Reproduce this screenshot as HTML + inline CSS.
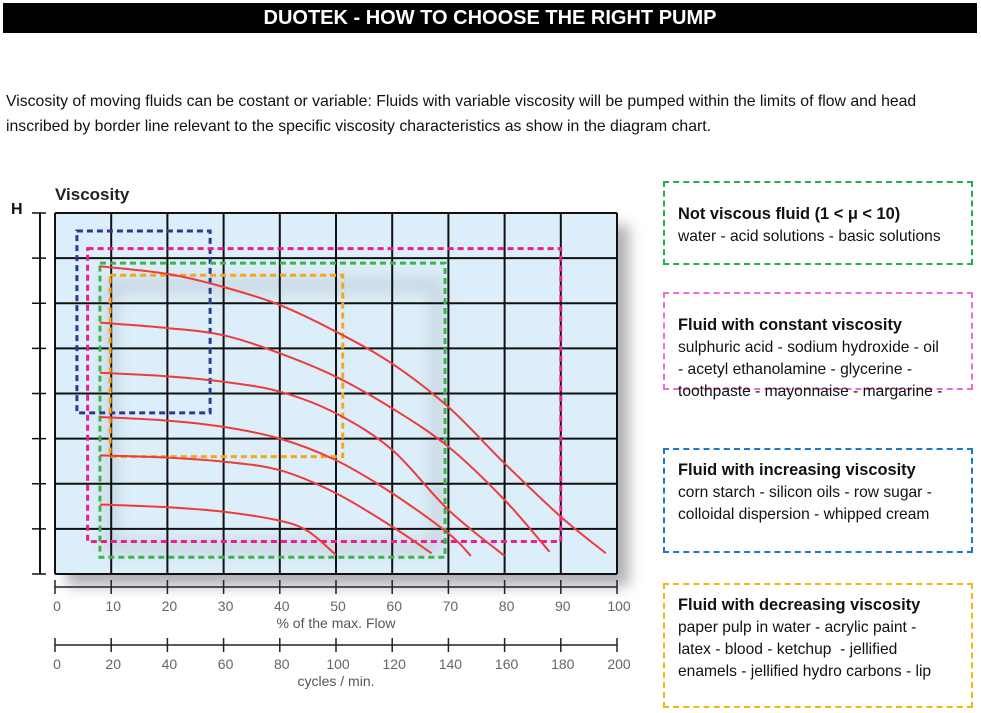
<!DOCTYPE html>
<html><head><meta charset="utf-8"><style>
body{margin:0;width:981px;height:713px;background:#fff;position:relative;font-family:"Liberation Sans",sans-serif;overflow:hidden}
.hdr{position:absolute;left:3px;top:3px;width:974px;height:30px;background:#000;color:#fff;font-weight:bold;font-size:20px;line-height:30px;text-align:center}
.intro{position:absolute;left:6px;top:89px;width:975px;font-size:15.8px;line-height:25px;color:#111;white-space:nowrap}
.box{position:absolute;left:663px;width:310px;border:2.5px dashed;padding:0 0 0 13px;box-sizing:border-box;font-size:15.6px;line-height:22px;color:#111;white-space:nowrap}
.box b{font-size:16.4px;display:block;line-height:24px}
</style></head><body>
<div class="hdr">DUOTEK - HOW TO CHOOSE THE RIGHT PUMP</div>
<div class="intro">Viscosity of moving fluids can be costant or variable: Fluids with variable viscosity will be pumped within the limits of flow and head<br>inscribed by border line relevant to the specific viscosity characteristics as show in the diagram chart.</div>
<div class="box" style="top:181px;height:84px;border-color:#22b04a;padding-top:19px"><b>Not viscous fluid (1 &lt; μ &lt; 10)</b>water - acid solutions - basic solutions</div>
<div class="box" style="top:292px;height:98px;border-color:#f16ad8;padding-top:19px"><b>Fluid with constant viscosity</b>sulphuric acid - sodium hydroxide - oil<br>- acetyl ethanolamine - glycerine -<br>toothpaste - mayonnaise - margarine -</div>
<div class="box" style="top:448px;height:105px;border-color:#1a78d0;padding-top:8px"><b>Fluid with increasing viscosity</b>corn starch - silicon oils - row sugar -<br>colloidal dispersion - whipped cream</div>
<div class="box" style="top:583px;height:125px;border-color:#f6b50f;padding-top:8px"><b>Fluid with decreasing viscosity</b>paper pulp in water - acrylic paint -<br>latex - blood - ketchup &nbsp;- jellified<br>enamels - jellified hydro carbons - lip</div>
<svg id="chart" width="650" height="713" style="position:absolute;left:0;top:0">
<defs><filter id="blur" x="-20%" y="-20%" width="140%" height="140%"><feGaussianBlur stdDeviation="7"/></filter></defs>
</svg>
<script>
const NS='http://www.w3.org/2000/svg';
const svg=document.getElementById('chart');
// data
const xTicks=[0,10,20,30,40,50,60,70,80,90,100];
const cycleTicks=[0,20,40,60,80,100,120,140,160,180,200];
const hRows=[0,1,2,3,4,5,6,7,8];
const curve1X=[8,20,30,40,50,60,70,80,90,98];
const curve1Y=[6.82,6.65,6.36,5.96,5.37,4.66,3.7,2.45,1.27,0.46];
const curve2X=[8,20,30,40,50,60,70,80,88];
const curve2Y=[5.57,5.45,5.29,4.89,4.37,3.67,2.82,1.64,0.49];
const curve3X=[8,20,30,40,50,60,70,80];
const curve3Y=[4.46,4.38,4.26,4.04,3.56,2.75,1.42,0.4];
const curve4X=[8,20,30,40,50,60,70,74];
const curve4Y=[3.48,3.4,3.26,3.0,2.52,1.79,0.9,0.4];
const curve5X=[8,20,30,40,50,60,67];
const curve5Y=[2.63,2.58,2.49,2.3,1.79,1.05,0.46];
const curve6X=[8,20,30,40,45,50];
const curve6Y=[1.54,1.48,1.38,1.18,0.95,0.42];
const rectBlue=[3.9,27.6,3.57,7.6];
const rectPink=[5.8,90,0.72,7.21];
const rectGreen=[8,69.4,0.37,6.89];
const rectOrange=[9.8,51.2,2.6,6.62];
// axes
const X0=55,X1=617,Y0=574,Y1=213;
const xs=v=>X0+(v/100)*(X1-X0);
const ys=v=>Y0-(v/8)*(Y0-Y1);
const xc=v=>X0+(v/200)*(X1-X0);
function mk(t,a,p){const e=document.createElementNS(NS,t);for(const k in a)e.setAttribute(k,a[k]);(p||svg).appendChild(e);return e;}
let sh=mk('rect',{x:X0+12,y:Y1+12,width:X1-X0,height:Y0-Y1,fill:'#8a8f96',filter:'url(#blur)',opacity:0.7});


let bg=mk('rect',{x:X0,y:Y1,width:X1-X0,height:Y0-Y1,fill:'#dceef9'});


let inner=mk('rect',{x:xs(10),y:ys(6.4),width:xs(68)-xs(10),height:ys(0.6)-ys(6.4),fill:'none',stroke:'#b9c6d2',"stroke-width":14,filter:'url(#blur)',opacity:0.6});


xTicks.forEach(v=>{const l=mk('line',{x1:xs(v),x2:xs(v),y1:Y1,y2:Y0,stroke:'#111','stroke-width':2});

});
hRows.forEach(v=>{const l=mk('line',{x1:X0,x2:X1,y1:ys(v),y2:ys(v),stroke:'#111','stroke-width':2});

});
function rect(r,c,n){const e=mk('rect',{x:xs(r[0]),y:ys(r[3]),width:xs(r[1])-xs(r[0]),height:ys(r[2])-ys(r[3]),fill:'none',stroke:c,'stroke-width':3,'stroke-dasharray':'6 4'});

}
rect(rectBlue,'#2b3a8f','region-increasing');
rect(rectPink,'#ee1c8c','region-constant');
rect(rectGreen,'#3bb54a','region-not-viscous');
rect(rectOrange,'#f7a61b','region-decreasing');
function curve(X,Y,n){let d='M'+xs(X[0])+','+ys(Y[0]);
for(let i=0;i<X.length-1;i++){const p0=[xs(X[Math.max(i-1,0)]),ys(Y[Math.max(i-1,0)])],p1=[xs(X[i]),ys(Y[i])],p2=[xs(X[i+1]),ys(Y[i+1])],p3=[xs(X[Math.min(i+2,X.length-1)]),ys(Y[Math.min(i+2,X.length-1)])];
d+=' C'+(p1[0]+(p2[0]-p0[0])/6)+','+(p1[1]+(p2[1]-p0[1])/6)+' '+(p2[0]-(p3[0]-p1[0])/6)+','+(p2[1]-(p3[1]-p1[1])/6)+' '+p2[0]+','+p2[1];}
const e=mk('path',{d:d,fill:'none',stroke:'#ee3b3b','stroke-width':2});

}
curve(curve1X,curve1Y,'curve-1');curve(curve2X,curve2Y,'curve-2');curve(curve3X,curve3Y,'curve-3');
curve(curve4X,curve4Y,'curve-4');curve(curve5X,curve5Y,'curve-5');curve(curve6X,curve6Y,'curve-6');
let la=mk('line',{x1:40,x2:40,y1:Y1,y2:Y0,stroke:'#111','stroke-width':2});


hRows.forEach(v=>{const l=mk('line',{x1:32,x2:46,y1:ys(v),y2:ys(v),stroke:'#111','stroke-width':1.5});

});
function txt(s,x,y,a,n){const t=mk('text',a);t.setAttribute('x',x);t.setAttribute('y',y);t.textContent=s;

return t;}
txt('H',11,214,{'font-size':16,'font-weight':'bold',fill:'#111'},'h-axis-title');
txt('Viscosity',55,200,{'font-size':17,'font-weight':'bold',fill:'#222'},'chart-title');
function axis(y,ticks,f,name,ty,title,tname){const l=mk('line',{x1:X0,x2:X1,y1:y,y2:y,stroke:'#222','stroke-width':1.5});


ticks.forEach(v=>{const k=mk('line',{x1:f(v),x2:f(v),y1:y-7,y2:y+7,stroke:'#222','stroke-width':1.5});


txt(String(v),f(v)+2,y+24,{'font-size':14,fill:'#666','text-anchor':'middle'},'x-tick-label');});
txt(title,336,ty,{'font-size':14,fill:'#555','text-anchor':'middle'},tname);}
axis(587,xTicks,xs,'flow-axis',628,'%  of the max. Flow','flow-axis-title');
axis(645,cycleTicks,xc,'cycles-axis',686,'cycles / min.','cycles-axis-title');
</script>
</body></html>
